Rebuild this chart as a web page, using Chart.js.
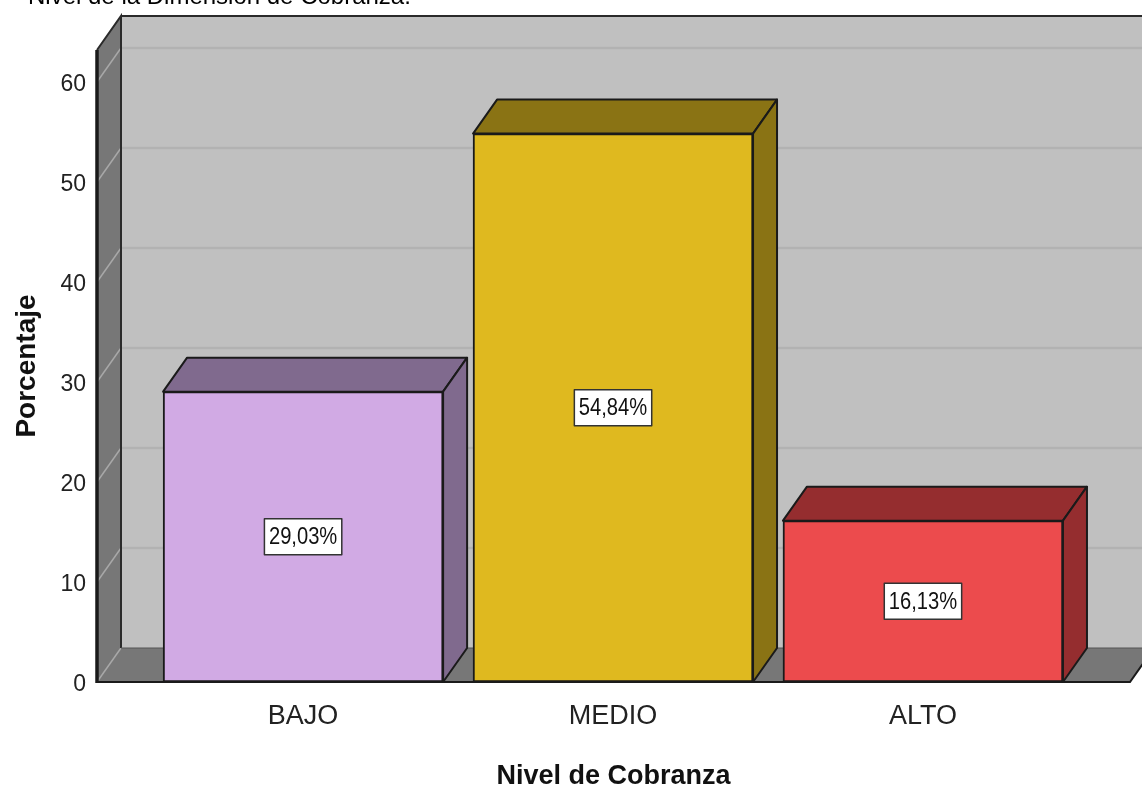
<!DOCTYPE html>
<html>
<head>
<meta charset="utf-8">
<script src="https://cdn.jsdelivr.net/npm/chart.js@4/dist/chart.umd.min.js"></script>
<style>
  html, body { margin: 0; padding: 0; background: #ffffff; }
  #wrap { width: 1142px; height: 793px; position: relative; }
</style>
</head>
<body>
<div id="wrap"><canvas id="c" width="1142" height="793"></canvas></div>
<script>
// ---- data ----
const chartTitle = "Nivel de la Dimensión de Cobranza.";
const categories = ["BAJO", "MEDIO", "ALTO"];
const percentages = [29.03, 54.84, 16.13];
const valueLabels = ["29,03%", "54,84%", "16,13%"];
const yTickValues = [0, 10, 20, 30, 40, 50, 60];
const xAxisTitle = "Nivel de Cobranza";
const yAxisTitle = "Porcentaje";

// ---- style ----
const frontColors = ["#D1AAE4", "#DFB91F", "#EC4B4D"];
const shadeColors = ["#806A8E", "#8A7314", "#952D2F"];
const DX = 24, DY = 34;           // depth offset of the 3D box
const narrowFont = "'Liberation Sans Narrow', 'Liberation Sans', Arial, sans-serif";
const sansFont = "'Liberation Sans', Arial, sans-serif";

const threeD = {
  id: 'threeD',
  beforeDatasetsDraw(chart) {
    const ctx = chart.ctx;
    const a = chart.chartArea;
    const y = chart.scales.y;
    const L = a.left, R = a.right, T = a.top, B = a.bottom;
    ctx.save();
    // back wall
    ctx.fillStyle = '#C0C0C0';
    ctx.fillRect(L + DX, T - DY, R - L + 10, B - T);
    // back wall gridlines
    ctx.strokeStyle = '#B2B2B2';
    ctx.lineWidth = 2.5;
    yTickValues.forEach(v => {
      if (v === 0) return;
      const py = y.getPixelForValue(v) - DY;
      ctx.beginPath(); ctx.moveTo(L + DX, py); ctx.lineTo(R + DX + 10, py); ctx.stroke();
    });
    // left wall
    ctx.fillStyle = '#777777';
    ctx.beginPath();
    ctx.moveTo(L, T); ctx.lineTo(L + DX, T - DY); ctx.lineTo(L + DX, B - DY); ctx.lineTo(L, B); ctx.closePath();
    ctx.fill();
    // floor
    ctx.beginPath();
    ctx.moveTo(L, B); ctx.lineTo(L + DX, B - DY); ctx.lineTo(R + DX, B - DY); ctx.lineTo(R, B); ctx.closePath();
    ctx.fill();
    // wall gridlines (diagonals)
    ctx.strokeStyle = '#A8A8A8';
    ctx.lineWidth = 1.5;
    yTickValues.forEach(v => {
      const py = y.getPixelForValue(v);
      ctx.beginPath(); ctx.moveTo(L, py); ctx.lineTo(L + DX, py - DY); ctx.stroke();
    });
    // edges
    ctx.strokeStyle = '#2a2a2a';
    ctx.lineWidth = 2;
    ctx.beginPath(); ctx.moveTo(L + DX, T - DY); ctx.lineTo(R + DX + 20, T - DY); ctx.stroke();
    ctx.beginPath(); ctx.moveTo(L, T); ctx.lineTo(L + DX, T - DY); ctx.lineTo(L + DX, B - DY); ctx.stroke();
    ctx.lineWidth = 1.2;
    ctx.strokeStyle = '#555555';
    ctx.beginPath(); ctx.moveTo(L + DX, B - DY); ctx.lineTo(R + DX, B - DY); ctx.stroke();
    ctx.strokeStyle = '#1a1a1a';
    ctx.lineWidth = 2;
    ctx.beginPath(); ctx.moveTo(L, B); ctx.lineTo(R, B); ctx.lineTo(R + DX, B - DY); ctx.stroke();
    ctx.lineWidth = 3.5;
    ctx.beginPath(); ctx.moveTo(L, T); ctx.lineTo(L, B + 1); ctx.stroke();
    ctx.restore();
  },
  afterDatasetsDraw(chart) {
    const ctx = chart.ctx;
    const meta = chart.getDatasetMeta(0);
    const squeeze = 0.84;
    ctx.save();
    ctx.lineJoin = 'round';
    meta.data.forEach((bar, i) => {
      const p = bar.getProps(['x', 'y', 'base', 'width'], true);
      const x0 = p.x - p.width / 2, x1 = p.x + p.width / 2;
      const top = p.y, base = p.base;
      ctx.fillStyle = shadeColors[i];
      ctx.strokeStyle = '#1a1a1a';
      ctx.lineWidth = 2;
      // top face
      ctx.beginPath();
      ctx.moveTo(x0, top); ctx.lineTo(x0 + DX, top - DY); ctx.lineTo(x1 + DX, top - DY); ctx.lineTo(x1, top); ctx.closePath();
      ctx.fill(); ctx.stroke();
      // side face
      ctx.beginPath();
      ctx.moveTo(x1, top); ctx.lineTo(x1 + DX, top - DY); ctx.lineTo(x1 + DX, base - DY); ctx.lineTo(x1, base); ctx.closePath();
      ctx.fill(); ctx.stroke();
      // value label box
      ctx.font = "24px " + narrowFont;
      const txt = valueLabels[i];
      const w = ctx.measureText(txt).width * squeeze;
      const cy = (top + base) / 2;
      const bw = w + 9, bh = 36;
      ctx.fillStyle = '#ffffff';
      ctx.fillRect(p.x - bw / 2, cy - bh / 2, bw, bh);
      ctx.strokeStyle = '#333333';
      ctx.lineWidth = 1.5;
      ctx.strokeRect(p.x - bw / 2, cy - bh / 2, bw, bh);
      ctx.fillStyle = '#111111';
      ctx.textAlign = 'center';
      ctx.textBaseline = 'middle';
      ctx.save();
      ctx.translate(p.x, cy + 1);
      ctx.scale(squeeze, 1);
      ctx.fillText(txt, 0, 0);
      ctx.restore();
    });
    ctx.restore();
  },
  afterDraw(chart) {
    const ctx = chart.ctx;
    ctx.save();
    ctx.font = "24px " + sansFont;
    ctx.fillStyle = '#000000';
    ctx.textAlign = 'left';
    ctx.textBaseline = 'alphabetic';
    ctx.fillText(chartTitle, 28, 4);
    ctx.restore();
  }
};

new Chart(document.getElementById('c'), {
  type: 'bar',
  data: {
    datasets: [{
      data: categories.map((c, i) => ({ x: i, y: percentages[i] })),
      backgroundColor: frontColors,
      borderColor: '#1a1a1a',
      borderWidth: 2,
      borderSkipped: false,
      barThickness: 280
    }]
  },
  plugins: [threeD],
  options: {
    responsive: false,
    animation: false,
    layout: { padding: { top: 50, right: 12, left: 0, bottom: 0 } },
    plugins: { legend: { display: false }, tooltip: { enabled: false }, title: { display: false } },
    scales: {
      x: {
        type: 'linear',
        offset: false,
        min: -0.665,
        max: 2.668,
        grid: { display: false, drawTicks: false, offset: false },
        border: { display: false },
        afterBuildTicks: s => { s.ticks = categories.map((c, i) => ({ value: i })); },
        afterFit: s => { s.height = 111; },
        ticks: {
          callback: v => categories[v],
          font: { family: sansFont, size: 27 },
          color: '#222222',
          padding: 18,
          maxRotation: 0,
          autoSkip: false
        },
        title: {
          display: true,
          text: xAxisTitle,
          font: { family: sansFont, size: 27, weight: 'bold' },
          color: '#111111',
          padding: { top: 0, bottom: 0 }
        }
      },
      y: {
        min: 0,
        max: 63.2,
        grid: { display: false, drawTicks: false },
        border: { display: false },
        afterBuildTicks: s => { s.ticks = yTickValues.map(v => ({ value: v })); },
        afterFit: s => { s.width = 97; },
        ticks: {
          font: { family: narrowFont, size: 23 },
          color: '#222222',
          padding: 11,
          labelOffset: 3
        },
        title: {
          display: true,
          text: yAxisTitle,
          font: { family: sansFont, size: 28, weight: 'bold' },
          color: '#111111',
          padding: { top: 10, bottom: 0 }
        }
      }
    }
  }
});
</script>
</body>
</html>
